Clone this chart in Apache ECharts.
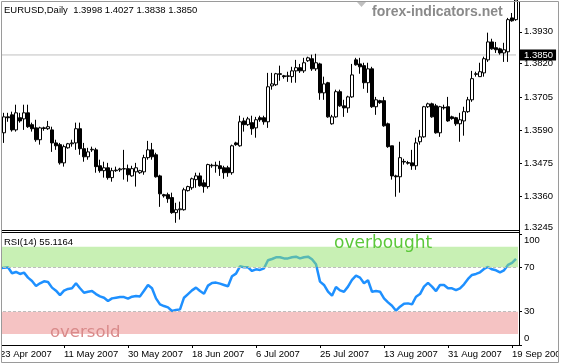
<!DOCTYPE html>
<html><head><meta charset="utf-8">
<script src="https://cdn.jsdelivr.net/npm/echarts@6/dist/echarts.min.js"></script>
<style>html,body{margin:0;padding:0;background:#fff}#c{width:562px;height:364px}</style>
</head><body><div id="c"></div>
<script>
const categories = ['23 Apr 2007','24 Apr 2007','25 Apr 2007','26 Apr 2007','27 Apr 2007','29 Apr 2007','30 Apr 2007','1 May 2007','2 May 2007','3 May 2007','4 May 2007','6 May 2007','7 May 2007','8 May 2007','9 May 2007','10 May 2007','11 May 2007','13 May 2007','14 May 2007','15 May 2007','16 May 2007','17 May 2007','18 May 2007','20 May 2007','21 May 2007','22 May 2007','23 May 2007','24 May 2007','25 May 2007','27 May 2007','28 May 2007','29 May 2007','30 May 2007','31 May 2007','1 Jun 2007','3 Jun 2007','4 Jun 2007','5 Jun 2007','6 Jun 2007','7 Jun 2007','8 Jun 2007','10 Jun 2007','11 Jun 2007','12 Jun 2007','13 Jun 2007','14 Jun 2007','15 Jun 2007','17 Jun 2007','18 Jun 2007','19 Jun 2007','20 Jun 2007','21 Jun 2007','22 Jun 2007','24 Jun 2007','25 Jun 2007','26 Jun 2007','27 Jun 2007','28 Jun 2007','29 Jun 2007','1 Jul 2007','2 Jul 2007','3 Jul 2007','4 Jul 2007','5 Jul 2007','6 Jul 2007','8 Jul 2007','9 Jul 2007','10 Jul 2007','11 Jul 2007','12 Jul 2007','13 Jul 2007','15 Jul 2007','16 Jul 2007','17 Jul 2007','18 Jul 2007','19 Jul 2007','20 Jul 2007','22 Jul 2007','23 Jul 2007','24 Jul 2007','25 Jul 2007','26 Jul 2007','27 Jul 2007','29 Jul 2007','30 Jul 2007','31 Jul 2007','1 Aug 2007','2 Aug 2007','3 Aug 2007','5 Aug 2007','6 Aug 2007','7 Aug 2007','8 Aug 2007','9 Aug 2007','10 Aug 2007','12 Aug 2007','13 Aug 2007','14 Aug 2007','15 Aug 2007','16 Aug 2007','17 Aug 2007','19 Aug 2007','20 Aug 2007','21 Aug 2007','22 Aug 2007','23 Aug 2007','24 Aug 2007','26 Aug 2007','27 Aug 2007','28 Aug 2007','29 Aug 2007','30 Aug 2007','31 Aug 2007','2 Sep 2007','3 Sep 2007','4 Sep 2007','5 Sep 2007','6 Sep 2007','7 Sep 2007','9 Sep 2007','10 Sep 2007','11 Sep 2007','12 Sep 2007','13 Sep 2007','14 Sep 2007','16 Sep 2007','17 Sep 2007','18 Sep 2007','19 Sep 2007','20 Sep 2007'];

const opens = [null,1.3581,1.3636,1.3643,1.3591,1.3633,1.3629,1.3650,1.3609,1.3598,1.3557,
1.3598,1.3595,1.3591,1.3546,1.3540,1.3477,1.3529,1.3543,1.3546,1.3595,
1.3526,1.3498,1.3522,1.3522,1.3467,1.3450,1.3460,1.3426,1.3450,1.3453,
1.3456,1.3457,1.3432,1.3446,1.3443,1.3446,1.3495,1.3522,1.3505,1.3432,
1.3367,1.3367,1.3357,1.3305,1.3315,1.3315,1.3381,1.3391,1.3419,1.3432,
1.3408,1.3395,1.3467,1.3469,1.3467,1.3460,1.3460,1.3443,1.3546,1.3536,
1.3622,1.3609,1.3616,1.3598,1.3633,1.3633,1.3619,1.3743,1.3747,1.3785,
1.3778,1.3776,1.3775,1.3795,1.3806,1.3795,1.3830,1.3837,1.3802,1.3819,
1.3719,1.3754,1.3612,1.3636,1.3723,1.3674,1.3667,1.3705,1.3833,1.3819,
1.3813,1.3754,1.3802,1.3671,1.3692,1.3692,1.3612,1.3536,1.3432,1.3429,
1.3482,1.3478,1.3477,1.3467,1.3550,1.3567,1.3671,1.3681,1.3674,1.3581,
1.3669,1.3671,1.3636,1.3633,1.3612,1.3622,1.3654,1.3695,1.3783,1.3775,
1.3788,1.3833,1.3895,1.3875,1.3871,1.3857,1.3861,1.3978,1.3972];

const closes = [null,1.3636,1.3633,1.3591,1.3650,1.3622,1.3650,1.3602,1.3595,1.3557,1.3598,
1.3596,1.3602,1.3546,1.3536,1.3477,1.3533,1.3543,1.3546,1.3595,1.3526,
1.3498,1.3515,1.3524,1.3464,1.3450,1.3460,1.3426,1.3450,1.3452,1.3456,
1.3457,1.3436,1.3457,1.3460,1.3450,1.3495,1.3522,1.3498,1.3429,1.3370,
1.3363,1.3353,1.3305,1.3315,1.3318,1.3384,1.3395,1.3422,1.3432,1.3398,
1.3395,1.3471,1.3469,1.3467,1.3457,1.3443,1.3443,1.3536,1.3540,1.3619,
1.3609,1.3629,1.3595,1.3626,1.3626,1.3619,1.3740,1.3750,1.3785,1.3783,
1.3775,1.3778,1.3795,1.3806,1.3795,1.3823,1.3840,1.3802,1.3823,1.3719,
1.3750,1.3636,1.3636,1.3723,1.3674,1.3667,1.3705,1.3781,1.3816,1.3809,
1.3754,1.3802,1.3671,1.3695,1.3685,1.3605,1.3533,1.3432,1.3429,1.3495,
1.3480,1.3476,1.3467,1.3546,1.3567,1.3671,1.3681,1.3636,1.3581,1.3671,
1.3667,1.3622,1.3630,1.3612,1.3626,1.3654,1.3695,1.3768,1.3785,1.3792,
1.3837,1.3895,1.3871,1.3868,1.3857,1.3868,1.3972,1.3968,1.4040];

const lows = [null,1.3546,1.3619,1.3585,1.3585,1.3616,1.3591,1.3598,1.3585,1.3550,1.3540,
1.3588,1.3591,1.3515,1.3522,1.3471,1.3464,1.3526,1.3533,1.3522,1.3505,
1.3481,1.3488,1.3515,1.3443,1.3443,1.3426,1.3419,1.3412,1.3446,1.3446,
1.3419,1.3412,1.3429,1.3395,1.3439,1.3436,1.3488,1.3488,1.3426,1.3325,
1.3357,1.3339,1.3301,1.3270,1.3281,1.3312,1.3378,1.3384,1.3391,1.3395,
1.3374,1.3388,1.3460,1.3443,1.3432,1.3422,1.3429,1.3436,1.3536,1.3533,
1.3585,1.3605,1.3574,1.3564,1.3619,1.3609,1.3598,1.3730,1.3743,1.3761,
1.3768,1.3757,1.3754,1.3754,1.3788,1.3788,1.3826,1.3795,1.3795,1.3695,
1.3695,1.3633,1.3609,1.3633,1.3671,1.3636,1.3650,1.3702,1.3813,1.3785,
1.3733,1.3719,1.3667,1.3643,1.3681,1.3602,1.3529,1.3419,1.3360,1.3374,
1.3471,1.3471,1.3453,1.3453,1.3540,1.3564,1.3667,1.3633,1.3578,1.3567,
1.3661,1.3619,1.3626,1.3605,1.3550,1.3571,1.3650,1.3688,1.3775,1.3775,
1.3775,1.3826,1.3868,1.3857,1.3851,1.3826,1.3826,1.3965,1.3968];

const highs = [null,1.3650,1.3650,1.3654,1.3678,1.3650,1.3678,1.3678,1.3616,1.3626,1.3602,
1.3602,1.3622,1.3602,1.3557,1.3546,1.3540,1.3546,1.3557,1.3616,1.3616,
1.3546,1.3529,1.3533,1.3529,1.3488,1.3481,1.3477,1.3460,1.3464,1.3460,
1.3522,1.3471,1.3467,1.3477,1.3453,1.3505,1.3553,1.3546,1.3512,1.3436,
1.3370,1.3374,1.3374,1.3339,1.3343,1.3391,1.3398,1.3426,1.3443,1.3443,
1.3419,1.3474,1.3474,1.3481,1.3484,1.3467,1.3467,1.3540,1.3550,1.3640,
1.3633,1.3636,1.3640,1.3636,1.3640,1.3640,1.3788,1.3788,1.3788,1.3813,
1.3781,1.3792,1.3809,1.3833,1.3819,1.3840,1.3844,1.3851,1.3854,1.3823,
1.3775,1.3757,1.3643,1.3730,1.3730,1.3695,1.3709,1.3819,1.3840,1.3840,
1.3823,1.3823,1.3809,1.3705,1.3695,1.3705,1.3616,1.3536,1.3436,1.3550,
1.3491,1.3484,1.3522,1.3564,1.3591,1.3674,1.3685,1.3685,1.3681,1.3674,
1.3678,1.3705,1.3640,1.3636,1.3650,1.3671,1.3705,1.3795,1.3792,1.3823,
1.3844,1.3927,1.3906,1.3895,1.3875,1.3892,1.3978,1.3995,1.4045];

const rsi = [69.0,69.7,70.0,64.6,65.8,64.0,65.2,60.7,57.7,53.2,55.6,
57.4,56.8,51.7,48.9,45.0,48.9,50.5,51.1,55.6,51.1,
47.1,48.0,48.6,45.9,43.8,42.6,39.6,42.0,42.6,43.2,
43.2,41.7,43.5,44.1,43.8,48.9,54.1,51.1,42.0,36.6,
35.1,33.9,30.6,31.5,32.1,42.6,45.9,49.2,51.7,48.6,
46.2,53.5,55.9,56.2,55.3,54.1,52.9,61.9,64.3,70.9,
70.0,70.0,66.7,68.2,67.6,69.1,76.3,77.5,79.0,79.0,
78.0,78.0,79.0,79.6,78.0,79.0,79.6,77.2,72.7,57.1,
54.1,48.0,44.4,52.3,49.2,48.0,52.6,58.6,62.5,60.7,
55.6,58.3,48.0,48.6,48.0,42.0,38.4,35.4,30.9,34.5,
37.2,37.5,36.6,43.5,45.9,52.6,55.9,52.6,48.6,54.1,
54.1,51.1,51.1,49.5,51.1,54.7,59.5,63.1,64.0,65.5,
68.5,70.3,68.2,67.3,65.5,67.3,72.1,73.9,77.5];

const priceTicks = [1.3245, 1.3360, 1.3475, 1.3590, 1.3705, 1.3820, 1.3930];
const rsiTicks = [0, 30, 70, 100];
const lastPrice = 1.3850;
const titleText = 'EURUSD,Daily  1.3998 1.4027 1.3838 1.3850';
const rsiText = 'RSI(14) 55.1164';
const overboughtBand = [70, 88.5];
const oversoldBand = [10, 30];
const levels = [70, 30];

const F = "'Liberation Sans', Arial, sans-serif";
const candles = categories.map((c, i) => opens[i] == null ? ['-', '-', '-', '-'] : [opens[i], closes[i], lows[i], highs[i]]);
const priceLine = categories.map(() => lastPrice);

const chart = echarts.init(document.getElementById('c'), null, {renderer: 'canvas'});
chart.setOption({
  animation: false,
  backgroundColor: '#fff',
  grid: [
    {left: -2, width: 520, top: 2, height: 228, outerBoundsMode: 'none', containLabel: false},
    {left: -2, width: 520, top: 234, height: 111, outerBoundsMode: 'none', containLabel: false}
  ],
  xAxis: [
    {type: 'category', gridIndex: 0, data: categories, boundaryGap: true, show: false},
    {type: 'category', gridIndex: 1, data: categories, boundaryGap: true,
     axisLine: {show: false},
     axisTick: {show: true, interval: 15, alignWithLabel: true, length: 3, lineStyle: {color: '#000'}},
     axisLabel: {interval: 15, align: 'left', margin: 4, fontSize: 9.5, fontFamily: F, color: '#000', hideOverlap: false},
     splitLine: {show: false}}
  ],
  yAxis: [
    {type: 'value', gridIndex: 0, position: 'right', offset: 1, min: 1.3245, max: 1.4033,
     axisLine: {show: true, onZero: false, lineStyle: {color: '#000'}},
     axisTick: {show: true, length: 3, customValues: priceTicks, lineStyle: {color: '#000'}},
     axisLabel: {customValues: priceTicks, margin: 5, fontSize: 9.5, fontFamily: F, color: '#000',
       formatter: v => Math.abs(v - priceTicks[0]) < 1e-6 ? '{lo|' + v.toFixed(4) + '}' : v.toFixed(4),
       rich: {lo: {padding: [0, 0, 6, 0], fontSize: 9.5, fontFamily: F, color: '#000'}}},
     splitLine: {show: false}},
    {type: 'value', gridIndex: 1, position: 'right', offset: 1, min: 0, max: 100,
     axisLine: {show: true, onZero: false, lineStyle: {color: '#000'}},
     axisTick: {show: true, length: 3, customValues: rsiTicks, lineStyle: {color: '#000'}},
     axisLabel: {customValues: rsiTicks, margin: 5, fontSize: 9.5, fontFamily: F, color: '#000',
       formatter: v => v === 100 ? '{t|100}' : (v === 0 ? '{b|0}' : String(v)),
       rich: {t: {padding: [13, 0, 0, 0], fontSize: 9.5, fontFamily: F, color: '#000'},
              b: {padding: [0, 0, 14, 0], fontSize: 9.5, fontFamily: F, color: '#000'}}},
     splitLine: {show: false}}
  ],
  series: [
    {type: 'line', xAxisIndex: 0, yAxisIndex: 0, data: priceLine, symbol: 'none', z: 1, silent: true,
     lineStyle: {color: '#c0c0c0', width: 1}, itemStyle: {color: '#c0c0c0'},
     emphasis: {disabled: true},
     endLabel: {show: true, formatter: lastPrice.toFixed(4), color: '#fff', backgroundColor: '#000',
                padding: [1, 3, 0, 5], fontSize: 9.5, fontFamily: F, distance: 3}},
    {type: 'candlestick', xAxisIndex: 0, yAxisIndex: 0, data: candles, barWidth: 3, clip: true, z: 3,
     itemStyle: {color: '#fff', color0: '#000', borderColor: '#000', borderColor0: '#000', borderWidth: 1}},
    {type: 'line', xAxisIndex: 1, yAxisIndex: 1, data: rsi, symbol: 'none', z: 2,
     lineStyle: {color: '#1e90ff', width: 2.5}, itemStyle: {color: '#1e90ff'},
     markLine: {silent: true, symbol: ['none', 'none'], animation: false,
       lineStyle: {color: '#bdbdbd', type: [3, 2], width: 1}, label: {show: false},
       emphasis: {disabled: true},
       data: levels.map(l => ({yAxis: l}))},
     markArea: {silent: true, z: 3,
       data: [
         [{yAxis: overboughtBand[0], itemStyle: {color: 'rgba(145,225,105,0.5)'}}, {yAxis: overboughtBand[1]}],
         [{yAxis: oversoldBand[0], itemStyle: {color: 'rgba(235,135,135,0.5)'}}, {yAxis: oversoldBand[1]}]
       ]}}
  ],
  graphic: [
    {type: 'rect', z: 100, silent: true, shape: {x: 0, y: 0, width: 1.5, height: 364}, style: {fill: '#fff'}},
    {type: 'rect', z: 100, silent: true, shape: {x: 558.5, y: 0, width: 4, height: 364}, style: {fill: '#fff'}},
    {type: 'rect', z: 100, silent: true, shape: {x: 520, y: 230, width: 38, height: 3.5}, style: {fill: '#fff'}},
    {type: 'rect', z: 101, silent: true, shape: {x: 1.5, y: 1.5, width: 557, height: 361}, style: {fill: null, stroke: '#9a9a9a', lineWidth: 1}},
    {type: 'line', z: 101, silent: true, shape: {x1: 2, y1: 230.5, x2: 520, y2: 230.5}, style: {stroke: '#000', lineWidth: 1}},
    {type: 'line', z: 101, silent: true, shape: {x1: 2, y1: 232.5, x2: 520, y2: 232.5}, style: {stroke: '#000', lineWidth: 1}},
    {type: 'line', z: 101, silent: true, shape: {x1: 519.5, y1: 229, x2: 519.5, y2: 235}, style: {stroke: '#000', lineWidth: 1}},
    {type: 'line', z: 101, silent: true, shape: {x1: 2, y1: 345.5, x2: 520, y2: 345.5}, style: {stroke: '#000', lineWidth: 1}},
    {type: 'polygon', z: 101, silent: true, shape: {points: [[357, 2], [366, 2], [361.5, 7]]}, style: {fill: '#c0c0c0'}},
    {type: 'text', z: 101, silent: true, x: 4, y: 10.7, style: {text: titleText, font: '9.5px ' + F, fill: '#000', align: 'left', verticalAlign: 'middle'}},
    {type: 'text', z: 101, silent: true, x: 372, y: 12, style: {text: 'forex-indicators.net', font: 'bold 14px ' + F, fill: '#8a8a8a', align: 'left', verticalAlign: 'middle'}},
    {type: 'text', z: 101, silent: true, x: 4, y: 242.4, style: {text: rsiText, font: '9.5px ' + F, fill: '#000', align: 'left', verticalAlign: 'middle'}},
    {type: 'text', z: 101, silent: true, x: 334, y: 244, style: {text: 'overbought', font: "17px 'DejaVu Sans', sans-serif", fill: '#5cc83a', align: 'left', verticalAlign: 'middle'}},
    {type: 'text', z: 101, silent: true, x: 50, y: 333, style: {text: 'oversold', font: "16.5px 'DejaVu Sans', sans-serif", fill: '#d98a8a', align: 'left', verticalAlign: 'middle'}}
  ]
});
</script></body></html>
